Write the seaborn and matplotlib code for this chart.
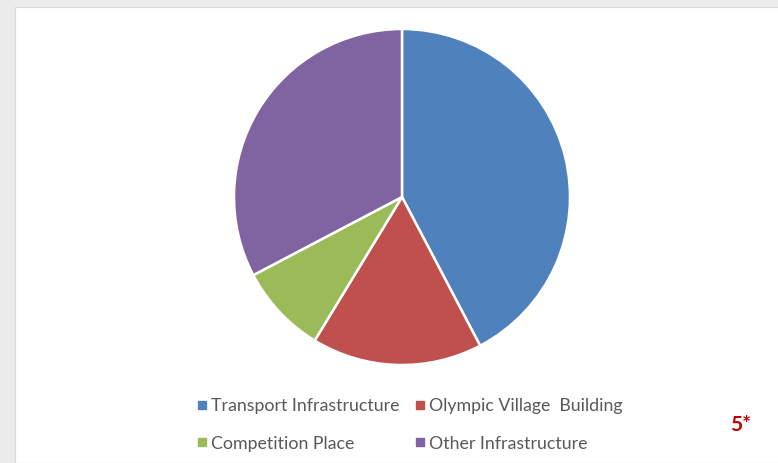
import matplotlib
matplotlib.use("Agg")
import matplotlib.pyplot as plt
from matplotlib.lines import Line2D
from matplotlib.patches import Rectangle
import seaborn as sns

categories = ["Transport Infrastructure", "Olympic Village  Building",
              "Competition Place", "Other Infrastructure"]
shares = [42.3, 16.4, 8.6, 32.7]
colors = ["#4f81bd", "#c0504d", "#9bbb59", "#8064a2"]


def main():
    sns.set_theme(style="white")
    plt.rcParams['font.family'] = ['Lato', 'DejaVu Sans']

    W, H = 778, 463
    fig = plt.figure(figsize=(W / 100, H / 100), dpi=100, facecolor="#ebebeb")

    # white chart area
    fig.patches.append(Rectangle((15 / W, 0), 1, 1 - 7 / H, transform=fig.transFigure,
                                 facecolor="white", edgecolor="#d9d9d9", lw=0.8, zorder=-1))

    cx, cy, r = 402, 197, 168
    ax = fig.add_axes([(cx - r) / W, 1 - (cy + r) / H, 2 * r / W, 2 * r / H])
    ax.set_zorder(2)
    ax.pie(shares, colors=colors, startangle=90, counterclock=False,
           wedgeprops=dict(edgecolor="white", linewidth=1.8))
    ax.set_xlim(-1, 1)
    ax.set_ylim(-1, 1)
    ax.set_aspect("equal")
    ax.axis("off")

    handles = [Line2D([], [], marker="s", linestyle="", markersize=6,
                      markerfacecolor=c, markeredgecolor=c) for c in colors]
    order = [0, 2, 1, 3]
    fig.legend([handles[i] for i in order], [categories[i] for i in order],
               ncol=2, loc="center", bbox_to_anchor=(408 / W, 1 - 425 / H),
               frameon=False, fontsize=12.8, handletextpad=0.05, columnspacing=0.7,
               labelspacing=1.2, handlelength=0.9, labelcolor="#595959")

    fig.text(741 / W, 1 - 425 / H, "5*", color="#c00000", fontsize=15,
             fontweight="bold", ha="center", va="center")

    fig.savefig("out.png", dpi=100, facecolor=fig.get_facecolor())


if __name__ == "__main__":
    main()
